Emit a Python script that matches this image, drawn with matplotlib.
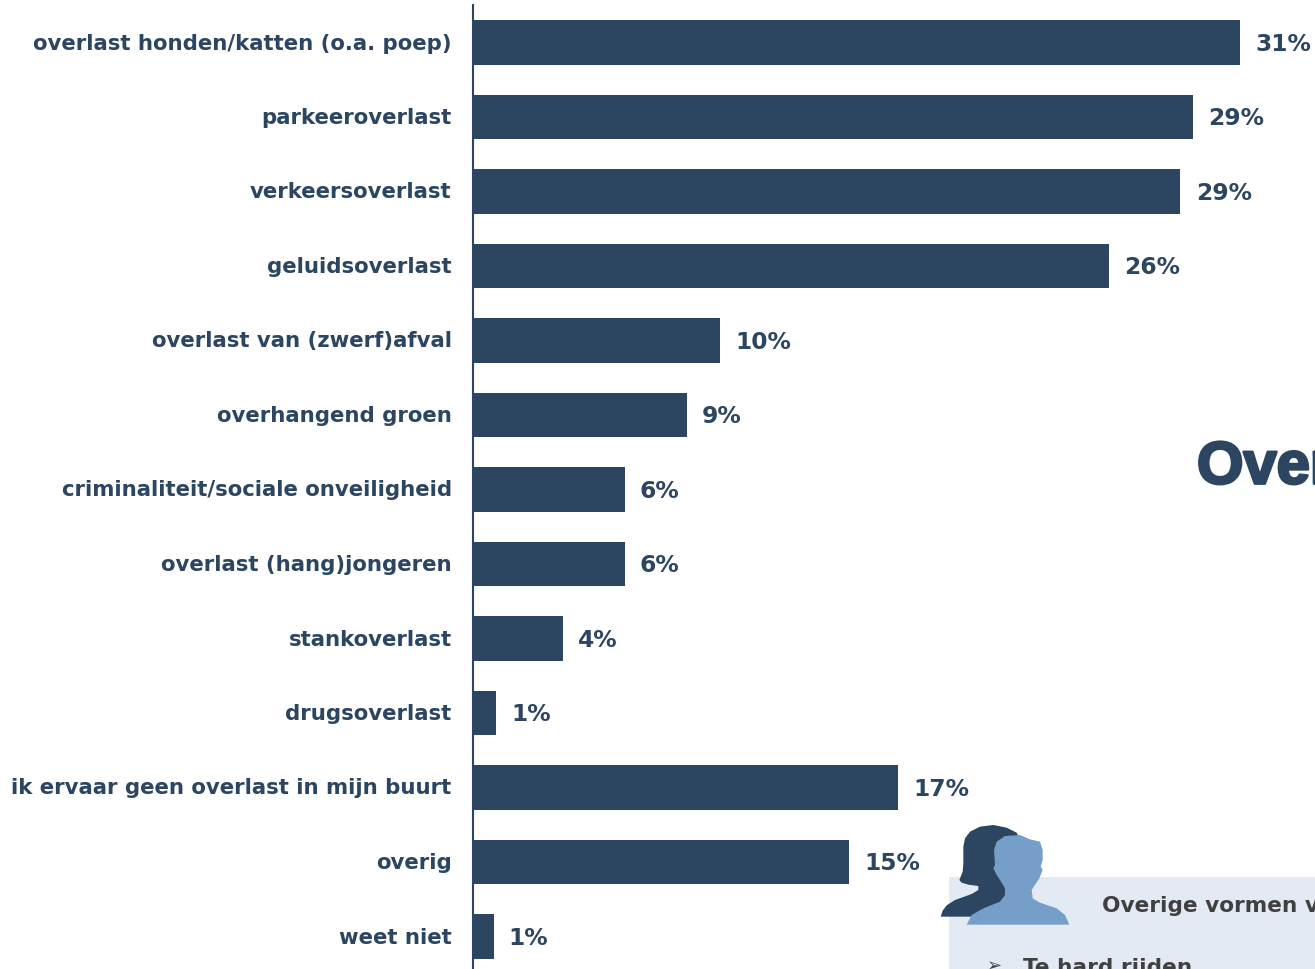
import matplotlib
matplotlib.use("Agg")
import matplotlib.pyplot as plt
import matplotlib.patheffects as pe
from matplotlib.patches import Polygon, Rectangle
from matplotlib.transforms import ScaledTranslation

W, H = 1315, 969
NAVY = "#2c4662"
SKY = "#759ec8"
PANEL = "#e3eaf4"
GREY = "#404040"

categories = [
    "overlast honden/katten (o.a. poep)",
    "parkeeroverlast",
    "verkeersoverlast",
    "geluidsoverlast",
    "overlast van (zwerf)afval",
    "overhangend groen",
    "criminaliteit/sociale onveiligheid",
    "overlast (hang)jongeren",
    "stankoverlast",
    "drugsoverlast",
    "ik ervaar geen overlast in mijn buurt",
    "overig",
    "weet niet",
]
values = [31.0, 29.1, 28.6, 25.7, 10.0, 8.65, 6.15, 6.15, 3.65, 0.95, 17.2, 15.2, 0.85]

woman_outline = [(122, 350), (128, 332), (140, 316), (165, 300), (215, 282), (235, 270),
                 (235, 258), (205, 254), (185, 248), (178, 240), (188, 215), (190, 190),
                 (190, 140), (195, 115), (210, 95), (240, 80), (280, 75), (320, 83),
                 (350, 98), (400, 200), (320, 350)]
man_outline = [(200, 374), (215, 345), (250, 325), (300, 305), (315, 285), (315, 265),
               (300, 240), (290, 225), (280, 205), (285, 195), (282, 150), (290, 125),
               (315, 108), (360, 105), (390, 118), (420, 125), (428, 150), (428, 180),
               (422, 200), (428, 210), (418, 235), (400, 262), (395, 270), (398, 295),
               (420, 308), (470, 325), (495, 345), (508, 374)]

fig = plt.figure(figsize=(W / 100, H / 100), dpi=100, facecolor="white")

# Bar chart: the lower edge of the axes runs just past the bottom of the figure.
top_px, bottom_px, left_px = 5.25, 973.75, 472.5
ax = fig.add_axes([left_px / W, (H - bottom_px) / H, (W - left_px) / W, (bottom_px - top_px) / H])
positions = list(range(len(categories)))
ax.barh(positions, values, height=0.6, color=NAVY, linewidth=0)
ax.set_xlim(0, (W - left_px) / 24.75)
ax.set_ylim(len(categories) - 0.5, -0.5)
ax.set_yticks(positions, categories)
ax.set_xticks([])
ax.tick_params(axis="y", length=0, pad=15)
lift = ScaledTranslation(0, 1 / 100, fig.dpi_scale_trans)
for lbl in ax.get_yticklabels():
    lbl.set_fontsize(15.35)
    lbl.set_fontweight("bold")
    lbl.set_color(NAVY)
    lbl.set_transform(lbl.get_transform() + lift)
for name in ("top", "right", "bottom"):
    ax.spines[name].set_visible(False)
ax.spines["left"].set_color(NAVY)
ax.spines["left"].set_linewidth(1.5)
ax.patch.set_alpha(0)
for i, v in enumerate(values):
    ax.annotate(f"{round(v)}%", (v, i), xytext=(11, -1.2), textcoords="offset points",
                va="center", ha="left", fontsize=16.8, fontweight="bold", color=NAVY,
                annotation_clip=False)

# Overlay in pixel coordinates for the heading, the text panel and the icon.
overlay = fig.add_axes([0, 0, 1, 1], zorder=3)
overlay.set_xlim(0, W)
overlay.set_ylim(H, 0)
overlay.axis("off")

overlay.text(1197, 468, "Overlast", fontsize=43, fontweight="bold", family="Liberation Sans",
             color=NAVY, va="center", ha="left",
             path_effects=[pe.withStroke(linewidth=2.0, foreground=NAVY)])

overlay.add_patch(Rectangle((949, 877), W - 949, H - 877, facecolor=PANEL, edgecolor="none"))
overlay.text(1102, 906, "Overige vormen van overlast", fontsize=15.6, fontweight="bold",
             color=GREY, va="center", ha="left")
overlay.text(987, 966, "\u27a2", fontsize=13, color=GREY, va="center", ha="left")
overlay.text(1023, 968, "Te hard rijden", fontsize=15.6, fontweight="bold",
             color=GREY, va="center", ha="left")

def icon_points(outline):
    return [(900 + x / 3, 800 + y / 3) for x, y in outline]

overlay.add_patch(Polygon(icon_points(woman_outline), closed=True, facecolor=NAVY, edgecolor="none"))
overlay.add_patch(Polygon(icon_points(man_outline), closed=True, facecolor=SKY, edgecolor="none"))

fig.savefig("out.png", dpi=100)
